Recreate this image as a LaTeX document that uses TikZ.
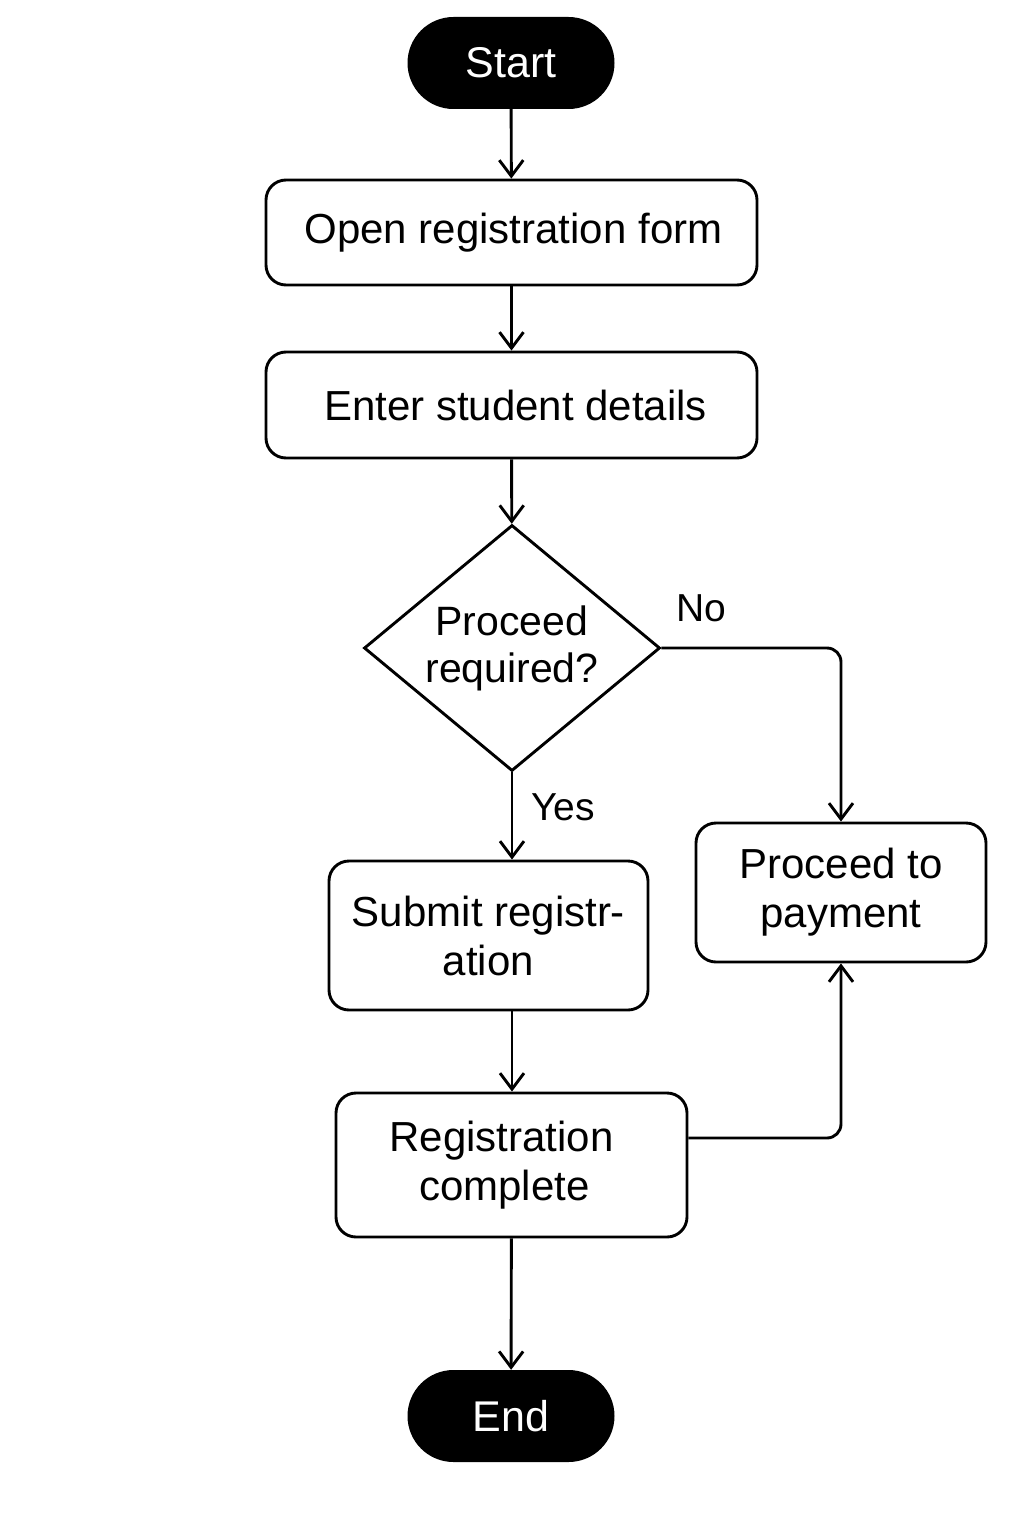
\documentclass[tikz,border=0pt]{standalone}
\usepackage{fontspec}
\setmainfont{Liberation Sans}
\usetikzlibrary{shapes.geometric,arrows.meta}
\begin{document}
\begin{tikzpicture}[x=1pt,y=-1pt,
 box/.style={draw, line width=2.9pt, rounded corners=20pt, inner sep=0pt, align=center, font=\fontsize{42}{49}\selectfont},
 term/.style={fill=black, text=white, rounded corners=46pt, inner sep=0pt, minimum width=207pt, minimum height=92pt, font=\fontsize{43}{50}\selectfont},
 decision/.style={draw, line width=2.9pt, shape=diamond, aspect=1.2, inner sep=0pt, minimum width=296pt, minimum height=246pt, align=center, font=\fontsize{41}{47}\selectfont},
 arr/.style={line width=2.9pt, -{Straight Barb[length=16pt,width=24pt,line width=2.9pt]}},
 lbl/.style={font=\fontsize{39}{46}\selectfont}]
\path[use as bounding box, fill=white] (0,0) rectangle (1024,1536);
\node[term] (start) at (511,63) {Start};
\node[box, minimum width=491pt, minimum height=105pt] (open) at (511.5,232.5) {\hspace*{4pt}Open registration form};
\node[box, minimum width=491pt, minimum height=106pt] (enter) at (511.5,405) {\hspace*{8pt}Enter student details};
\node[decision] (dec) at (512,648) {Proceed\\required?};
\node[box, minimum width=290pt, minimum height=139pt] (pay) at (841,892.5) {Proceed to\\payment};
\node[box, minimum width=319pt, minimum height=149pt] (sub) at (488.5,935.5) {Submit registr-\\ation};
\node[box, minimum width=351pt, minimum height=144pt] (reg) at (511.5,1165) {Registration\hspace*{20pt}\\complete\hspace*{14pt}};
\node[term] (end) at (511,1416) {End};
\node[lbl] (no) at (701,608) {No};
\node[lbl] (yes) at (563,807) {Yes};
\draw[arr] (start) -- (open);
\draw[arr] (open) -- (enter);
\draw[arr] (enter) -- (dec);
\draw[arr] (dec.south) -- (dec.south |- sub.north);
\draw[arr] (dec.south |- sub.south) -- (dec.south |- reg.north);
\draw[arr] (reg) -- (end);
\draw[arr, rounded corners=14pt] (dec.east) -| (pay.north);
\draw[arr, rounded corners=14pt] ([yshift=27pt]reg.east) -| (pay.south);
\end{tikzpicture}
\end{document}
